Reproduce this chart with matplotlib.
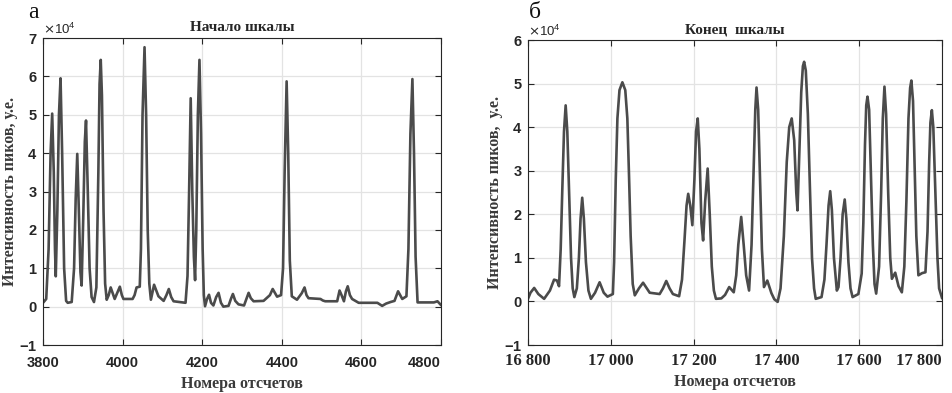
import numpy as np
import matplotlib
matplotlib.use("Agg")
import matplotlib.pyplot as plt
from matplotlib.ticker import ScalarFormatter, FixedLocator

# ---------------- data (intensity in units of 1e4) ----------------
x_a = [3800, 3808, 3814, 3819, 3823, 3827, 3830, 3832, 3836, 3840, 3844, 3848, 3853, 3858,
       3862, 3872, 3878, 3882, 3886, 3890, 3894, 3897, 3901, 3905, 3908, 3912, 3917, 3922,
       3928, 3934, 3939, 3942, 3945, 3948, 3952, 3956, 3960, 3965, 3970, 3975, 3980, 3986,
       3993, 3998, 4002, 4025, 4030, 4035, 4043, 4046, 4050, 4055, 4059, 4063, 4067, 4071,
       4079, 4090, 4103, 4110, 4116, 4122, 4128, 4158, 4163, 4167, 4171, 4175, 4179, 4182,
       4185, 4189, 4193, 4197, 4201, 4204, 4207, 4212, 4217, 4222, 4228, 4235, 4241, 4247,
       4253, 4266, 4272, 4277, 4283, 4291, 4305, 4311, 4316.5, 4322, 4329, 4354, 4370, 4377,
       4388, 4398, 4403, 4407, 4412, 4416, 4420, 4425, 4438, 4450, 4457, 4462, 4467, 4497,
       4503, 4509, 4539, 4545, 4550, 4556, 4561, 4565.5, 4571, 4576.5, 4593, 4640, 4652,
       4662, 4673, 4683, 4692, 4702.5, 4713, 4718, 4723, 4728, 4732, 4736, 4741, 4782,
       4791, 4799]
y_a = [0.10, 0.20, 1.5, 4.0, 5.03, 3.5, 1.5, 0.79, 2.5, 5.0, 5.95, 4.0, 1.0, 0.15,
       0.10, 0.12, 1.0, 2.8, 3.98, 2.5, 0.9, 0.55, 2.3, 4.3, 4.85, 3.2, 1.0, 0.25,
       0.12, 0.5, 3.5, 5.8, 6.43, 5.5, 2.5, 0.6, 0.18, 0.3, 0.5, 0.35, 0.2, 0.35,
       0.52, 0.3, 0.2, 0.2, 0.3, 0.5, 0.52, 1.5, 5.0, 6.76, 5.0, 2.0, 0.6, 0.18,
       0.57, 0.27, 0.15, 0.3, 0.46, 0.25, 0.14, 0.10, 0.8, 3.0, 5.43, 3.0, 1.3, 0.69,
       2.0, 5.0, 6.43, 4.5, 1.5, 0.3, 0.01, 0.2, 0.31, 0.1, 0.03, 0.25, 0.36, 0.1,
       0.0, 0.02, 0.2, 0.33, 0.15, 0.06, 0.03, 0.2, 0.36, 0.22, 0.14, 0.15, 0.3, 0.46,
       0.26, 0.3, 1.0, 3.5, 5.87, 4.0, 1.2, 0.27, 0.18, 0.35, 0.5, 0.3, 0.22, 0.2,
       0.16, 0.14, 0.14, 0.42, 0.3, 0.14, 0.4, 0.53, 0.3, 0.2, 0.1, 0.1, 0.02,
       0.08, 0.12, 0.15, 0.4, 0.2, 0.27, 1.5, 4.5, 5.93, 4.0, 1.3, 0.11, 0.11,
       0.14, 0.05]

x_b = [16800, 16806, 16815, 16825, 16839, 16853, 16863, 16870, 16875, 16879, 16883, 16887,
       16891, 16895, 16899, 16904, 16908, 16912, 16918, 16923, 16927, 16931, 16935, 16940,
       16946, 16952, 16962, 16973, 16983, 16992, 17005, 17008, 17012, 17016, 17021, 17028,
       17035, 17040, 17044, 17048, 17053, 17058, 17068, 17078, 17094, 17118, 17126, 17134,
       17142, 17150, 17165, 17172, 17178, 17183, 17187, 17192, 17197, 17202, 17206, 17210,
       17214, 17219, 17223, 17228, 17234, 17239, 17244, 17249, 17254, 17267, 17276, 17286,
       17297, 17303, 17308, 17315, 17321, 17327, 17334, 17340, 17345, 17349, 17352, 17356,
       17360, 17365, 17370, 17378, 17388, 17395, 17403, 17410, 17418, 17425, 17431, 17437,
       17443, 17448, 17451, 17455, 17460, 17464, 17467, 17471, 17476, 17481, 17486, 17491,
       17495, 17509, 17516, 17521, 17526, 17530, 17534, 17539, 17546, 17550, 17555, 17560,
       17565, 17569, 17574, 17579, 17584, 17598, 17606, 17610, 17614, 17617, 17620, 17624,
       17628, 17633, 17637, 17641, 17648, 17653, 17657, 17661, 17665, 17670, 17675, 17679,
       17687, 17695, 17703, 17709, 17714, 17719, 17723, 17726, 17730, 17734, 17738, 17743,
       17752, 17760, 17765, 17769, 17772, 17775.5, 17779, 17784, 17789, 17793, 17800]
y_b = [0.06, 0.2, 0.31, 0.17, 0.06, 0.25, 0.5, 0.48, 0.35, 1.2, 2.6, 3.9,
       4.5, 3.9, 2.6, 1.0, 0.3, 0.1, 0.3, 1.0, 1.9, 2.38, 1.9, 0.9,
       0.25, 0.06, 0.2, 0.44, 0.2, 0.11, 0.17, 0.9, 2.8, 4.2, 4.85, 5.03,
       4.85, 4.2, 2.9, 1.5, 0.4, 0.14, 0.3, 0.43, 0.2, 0.17, 0.3, 0.47,
       0.3, 0.17, 0.12, 0.5, 1.4, 2.2, 2.47, 2.2, 1.75, 2.8, 3.9, 4.2,
       3.5, 1.8, 1.4, 2.3, 3.05, 2.0, 0.8, 0.25, 0.06, 0.07, 0.15, 0.33,
       0.21, 0.6, 1.3, 1.94, 1.3, 0.6, 0.25, 1.3, 3.0, 4.4, 4.91, 4.4,
       3.0, 1.2, 0.33, 0.48, 0.19, 0.05, -0.01, 0.3, 1.5, 3.2, 4.0, 4.2,
       3.7, 2.5, 2.09, 3.3, 4.8, 5.4, 5.5, 5.3, 4.3, 2.6, 1.0, 0.3,
       0.06, 0.1, 0.5, 1.3, 2.2, 2.53, 2.1, 1.0, 0.25, 0.33, 1.0, 2.0,
       2.34, 1.9, 0.9, 0.3, 0.1, 0.17, 0.64, 1.8, 3.6, 4.5, 4.7, 4.4,
       3.0, 1.3, 0.4, 0.18, 0.8, 2.5, 4.2, 4.93, 4.3, 2.5, 1.0, 0.52,
       0.66, 0.35, 0.21, 0.8, 2.3, 4.2, 4.9, 5.07, 4.6, 3.0, 1.5, 0.6,
       0.65, 0.67, 1.6, 3.2, 4.1, 4.39, 4.0, 2.5, 1.0, 0.3, 0.08]

xticks_a = [3800, 4000, 4200, 4400, 4600, 4800]
xticks_b = [16800, 17000, 17200, 17400, 17600, 17800]
xticklabels_b = ["16 800", "17 000", "17 200", "17 400", "17 600", "17 800"]
yticks_a = [-1, 0, 1, 2, 3, 4, 5, 6, 7]
yticks_b = [-1, 0, 1, 2, 3, 4, 5, 6]

SCALE = 1e4
line_color = "#4b4b4b"
serif = ["Liberation Serif", "DejaVu Serif"]
sans = ["Liberation Sans", "DejaVu Sans"]

fig = plt.figure(figsize=(9.52, 3.93), dpi=100)
fig.patch.set_facecolor("white")

def style(ax, xlim, ylim, xticks, yticks):
    ax.set_xlim(*xlim)
    ax.set_ylim(*ylim)
    ax.xaxis.set_major_locator(FixedLocator(xticks))
    ax.yaxis.set_major_locator(FixedLocator(yticks))
    fmt = ScalarFormatter(useMathText=True)
    fmt.set_powerlimits((4, 4))
    ax.yaxis.set_major_formatter(fmt)
    ax.grid(True, color="#e3e3e3", linewidth=0.9)
    ax.set_axisbelow(True)
    ax.tick_params(direction="in", top=True, right=True, length=4, width=0.8,
                   colors="#262626", labelsize=10.5)
    ax.tick_params(axis="x", pad=8)
    ax.tick_params(axis="y", pad=4)
    for lab in ax.get_xticklabels() + ax.get_yticklabels():
        lab.set_fontweight("bold")
        lab.set_family(sans)
    for sp in ax.spines.values():
        sp.set_color("#262626")
        sp.set_linewidth(0.8)
    off = ax.yaxis.get_offset_text()
    off.set_fontsize(9.5)
    off.set_color("#262626")
    off.set_family(sans)

# ---- panel a ----
ax1 = fig.add_axes([0.0452, 0.1221, 0.4181, 0.7812])
ax1.plot(x_a, np.array(y_a) * SCALE, color=line_color, linewidth=1.9)
style(ax1, (3800, 4800), (-1 * SCALE, 7 * SCALE), xticks_a, np.array(yticks_a) * SCALE)
ax1.get_xticklabels()[-1].set_ha("right")
ax1.set_title("Начало шкалы", fontsize=11, fontweight="bold", family=serif,
              color="#262626", pad=5)
ax1.set_xlabel("Номера отсчетов", fontsize=11.5, fontweight="bold", family=serif,
               color="#3a3a3a", labelpad=4)
ax1.set_ylabel("Интенсивность пиков, у.е.", fontsize=11.5, fontweight="bold", family=serif,
               color="#3a3a3a", labelpad=1)

# ---- panel b ----
ax2 = fig.add_axes([0.5546, 0.1221, 0.4349, 0.7761])
ax2.plot(x_b, np.array(y_b) * SCALE, color=line_color, linewidth=1.9)
style(ax2, (16800, 17800), (-1 * SCALE, 6 * SCALE), xticks_b, np.array(yticks_b) * SCALE)
ax2.set_xticklabels(xticklabels_b, fontsize=12, fontweight="bold", family=serif)
ax2.tick_params(axis="x", pad=6)
ax2.get_xticklabels()[-1].set_ha("right")
ax2.set_title("Конец  шкалы", fontsize=11, fontweight="bold", family=serif,
              color="#262626", pad=5)
ax2.set_xlabel("Номера отсчетов", fontsize=11.5, fontweight="bold", family=serif,
               color="#3a3a3a", labelpad=3)
ax2.set_ylabel("Интенсивность пиков,  у.е.", fontsize=11.5, fontweight="bold", family=serif,
               color="#3a3a3a", labelpad=1)

fig.text(28 / 952, 1 - 18 / 393, "а", fontsize=17, family=serif, color="#111111")
fig.text(529 / 952, 1 - 18 / 393, "б", fontsize=17, family=serif, color="#111111")

fig.savefig("out.png", dpi=100, facecolor="white")
